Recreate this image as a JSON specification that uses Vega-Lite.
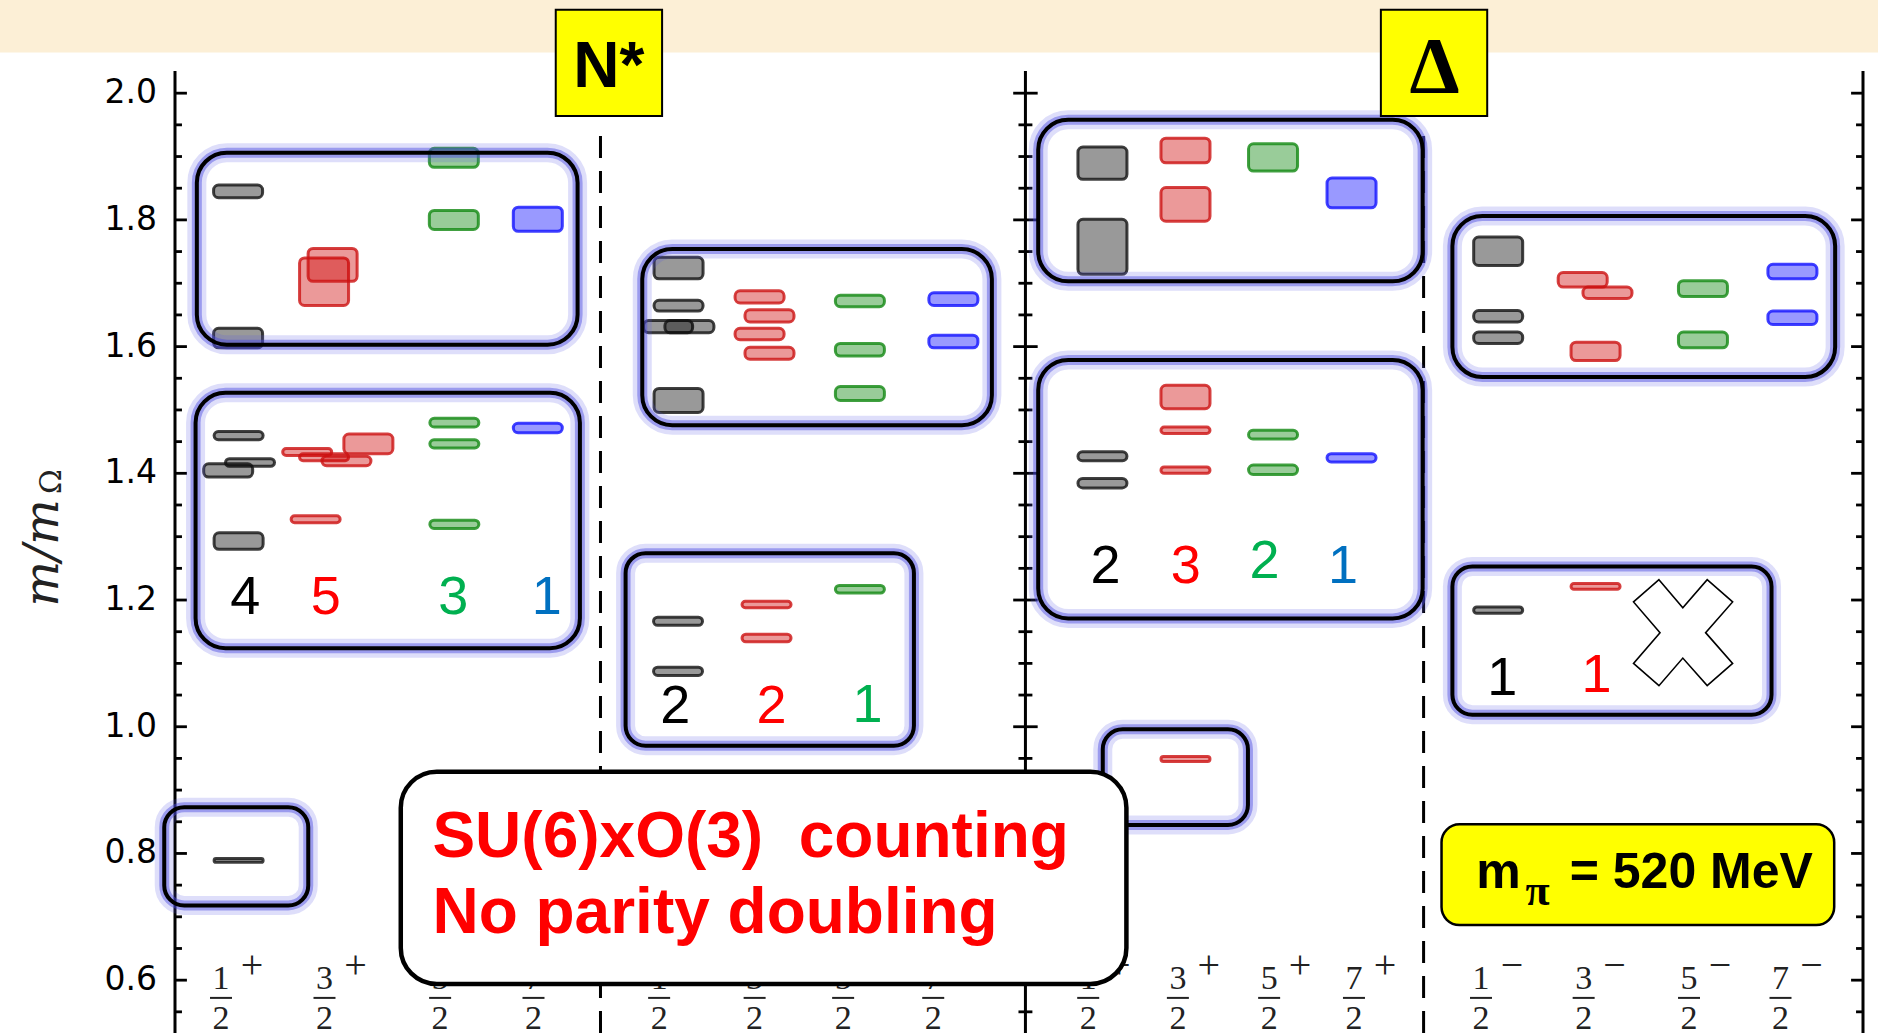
{
"$schema":"https://vega.github.io/schema/vega-lite/v6.json",
"width":1698,"height":962,
"autosize":{"type":"none"},
"padding":{"left":170,"top":71,"right":10,"bottom":0},
"background":"#ffffff",
"config":{"view":{"stroke":null}},
"datasets":{
"one":[{}],
"ticks":[{"v":0.55,"k":"minor"},{"v":0.6,"k":"major"},{"v":0.65,"k":"minor"},{"v":0.7,"k":"minor"},{"v":0.75,"k":"minor"},{"v":0.8,"k":"major"},{"v":0.85,"k":"minor"},{"v":0.9,"k":"minor"},{"v":0.95,"k":"minor"},{"v":1.0,"k":"major"},{"v":1.05,"k":"minor"},{"v":1.1,"k":"minor"},{"v":1.15,"k":"minor"},{"v":1.2,"k":"major"},{"v":1.25,"k":"minor"},{"v":1.3,"k":"minor"},{"v":1.35,"k":"minor"},{"v":1.4,"k":"major"},{"v":1.45,"k":"minor"},{"v":1.5,"k":"minor"},{"v":1.55,"k":"minor"},{"v":1.6,"k":"major"},{"v":1.65,"k":"minor"},{"v":1.7,"k":"minor"},{"v":1.75,"k":"minor"},{"v":1.8,"k":"major"},{"v":1.85,"k":"minor"},{"v":1.9,"k":"minor"},{"v":1.95,"k":"minor"},{"v":2.0,"k":"major"}],
"bars":[
{"x":0.598,"lo":1.835,"hi":1.855,"J":"1/2"},{"x":0.598,"lo":1.598,"hi":1.629,"J":"1/2"},
{"x":1.413,"lo":1.665,"hi":1.740,"J":"3/2"},{"x":1.494,"lo":1.703,"hi":1.755,"J":"3/2"},
{"x":2.643,"lo":1.883,"hi":1.913,"J":"5/2"},{"x":2.643,"lo":1.785,"hi":1.815,"J":"5/2"},
{"x":3.439,"lo":1.782,"hi":1.820,"J":"7/2"},
{"x":0.603,"lo":1.453,"hi":1.466,"J":"1/2"},{"x":0.711,"lo":1.411,"hi":1.423,"J":"1/2"},{"x":0.504,"lo":1.394,"hi":1.415,"J":"1/2"},{"x":0.603,"lo":1.280,"hi":1.306,"J":"1/2"},
{"x":1.253,"lo":1.428,"hi":1.439,"J":"3/2"},{"x":1.413,"lo":1.420,"hi":1.431,"J":"3/2"},{"x":1.625,"lo":1.412,"hi":1.427,"J":"3/2"},{"x":1.833,"lo":1.431,"hi":1.462,"J":"3/2"},{"x":1.333,"lo":1.322,"hi":1.333,"J":"3/2"},
{"x":2.648,"lo":1.473,"hi":1.487,"J":"5/2"},{"x":2.648,"lo":1.440,"hi":1.453,"J":"5/2"},{"x":2.648,"lo":1.313,"hi":1.326,"J":"5/2"},
{"x":3.439,"lo":1.464,"hi":1.479,"J":"7/2"},
{"x":0.603,"lo":0.786,"hi":0.792,"J":"1/2"},
{"x":4.773,"lo":1.707,"hi":1.741,"J":"1/2"},{"x":4.773,"lo":1.656,"hi":1.673,"J":"1/2"},{"x":4.674,"lo":1.622,"hi":1.641,"J":"1/2"},{"x":4.876,"lo":1.622,"hi":1.641,"J":"1/2"},{"x":4.773,"lo":1.496,"hi":1.534,"J":"1/2"},
{"x":5.541,"lo":1.669,"hi":1.688,"J":"3/2"},{"x":5.635,"lo":1.639,"hi":1.658,"J":"3/2"},{"x":5.541,"lo":1.611,"hi":1.629,"J":"3/2"},{"x":5.635,"lo":1.580,"hi":1.599,"J":"3/2"},
{"x":6.492,"lo":1.663,"hi":1.681,"J":"5/2"},{"x":6.492,"lo":1.585,"hi":1.605,"J":"5/2"},{"x":6.492,"lo":1.515,"hi":1.537,"J":"5/2"},
{"x":7.378,"lo":1.665,"hi":1.685,"J":"7/2"},{"x":7.378,"lo":1.598,"hi":1.618,"J":"7/2"},
{"x":4.768,"lo":1.160,"hi":1.173,"J":"1/2"},{"x":4.768,"lo":1.081,"hi":1.094,"J":"1/2"},
{"x":5.607,"lo":1.188,"hi":1.198,"J":"3/2"},{"x":5.607,"lo":1.134,"hi":1.146,"J":"3/2"},
{"x":6.492,"lo":1.211,"hi":1.223,"J":"5/2"},
{"x":8.791,"lo":1.864,"hi":1.915,"J":"1/2"},{"x":8.791,"lo":1.714,"hi":1.801,"J":"1/2"},
{"x":9.578,"lo":1.890,"hi":1.929,"J":"3/2"},{"x":9.578,"lo":1.798,"hi":1.851,"J":"3/2"},
{"x":10.408,"lo":1.877,"hi":1.920,"J":"5/2"},
{"x":11.152,"lo":1.819,"hi":1.866,"J":"7/2"},
{"x":8.791,"lo":1.420,"hi":1.434,"J":"1/2"},{"x":8.791,"lo":1.377,"hi":1.392,"J":"1/2"},
{"x":9.578,"lo":1.502,"hi":1.539,"J":"3/2"},{"x":9.578,"lo":1.463,"hi":1.473,"J":"3/2"},{"x":9.578,"lo":1.400,"hi":1.410,"J":"3/2"},
{"x":10.408,"lo":1.454,"hi":1.468,"J":"5/2"},{"x":10.408,"lo":1.398,"hi":1.413,"J":"5/2"},
{"x":11.152,"lo":1.418,"hi":1.431,"J":"7/2"},
{"x":9.578,"lo":0.945,"hi":0.953,"J":"3/2"},
{"x":12.542,"lo":1.728,"hi":1.773,"J":"1/2"},{"x":12.542,"lo":1.639,"hi":1.657,"J":"1/2"},{"x":12.542,"lo":1.605,"hi":1.623,"J":"1/2"},
{"x":13.343,"lo":1.694,"hi":1.717,"J":"3/2"},{"x":13.578,"lo":1.676,"hi":1.694,"J":"3/2"},{"x":13.465,"lo":1.578,"hi":1.607,"J":"3/2"},
{"x":14.483,"lo":1.679,"hi":1.704,"J":"5/2"},{"x":14.483,"lo":1.598,"hi":1.623,"J":"5/2"},
{"x":15.331,"lo":1.707,"hi":1.730,"J":"7/2"},{"x":15.331,"lo":1.635,"hi":1.656,"J":"7/2"},
{"x":12.542,"lo":1.179,"hi":1.189,"J":"1/2"},
{"x":13.465,"lo":1.217,"hi":1.226,"J":"3/2"}
],
"boxes":[
{"id":"a","x1":0.207,"x2":3.816,"y1":1.603,"y2":1.906},
{"id":"b","x1":0.195,"x2":3.838,"y1":1.124,"y2":1.527},
{"id":"c","x1":-0.102,"x2":1.263,"y1":0.718,"y2":0.873},
{"id":"d","x1":4.429,"x2":7.743,"y1":1.476,"y2":1.754},
{"id":"e","x1":4.271,"x2":7.004,"y1":0.970,"y2":1.274},
{"id":"f","x1":8.182,"x2":11.826,"y1":1.703,"y2":1.958},
{"id":"g","x1":8.182,"x2":11.826,"y1":1.171,"y2":1.579},
{"id":"h","x1":8.794,"x2":10.170,"y1":0.845,"y2":0.996},
{"id":"i","x1":12.108,"x2":15.736,"y1":1.552,"y2":1.806},
{"id":"j","x1":12.108,"x2":15.133,"y1":1.019,"y2":1.253}
],
"counts":[
{"x":0.666,"y":1.178,"t":"4","J":"1/2"},{"x":1.429,"y":1.178,"t":"5","J":"3/2"},{"x":2.638,"y":1.178,"t":"3","J":"5/2"},{"x":3.524,"y":1.178,"t":"1","J":"7/2"},
{"x":4.743,"y":1.006,"t":"2","J":"1/2"},{"x":5.654,"y":1.006,"t":"2","J":"3/2"},{"x":6.565,"y":1.008,"t":"1","J":"5/2"},
{"x":8.820,"y":1.2275,"t":"2","J":"1/2"},{"x":9.580,"y":1.227,"t":"3","J":"3/2"},{"x":10.327,"y":1.2344,"t":"2","J":"5/2"},{"x":11.072,"y":1.2275,"t":"1","J":"7/2"},
{"x":12.580,"y":1.0502,"t":"1","J":"1/2"},{"x":13.475,"y":1.0555,"t":"1","J":"3/2"}
],
"fracs":[
{"x":0.436,"n":"1","s":"+"},{"x":1.417,"n":"3","s":"+"},{"x":2.513,"n":"5","s":"+"},{"x":3.398,"n":"7","s":"+"},
{"x":4.589,"n":"1","s":"−"},{"x":5.494,"n":"3","s":"−"},{"x":6.333,"n":"5","s":"−"},{"x":7.187,"n":"7","s":"−"},
{"x":8.656,"n":"1","s":"+"},{"x":9.506,"n":"3","s":"+"},{"x":10.371,"n":"5","s":"+"},{"x":11.175,"n":"7","s":"+"},
{"x":12.379,"n":"1","s":"−"},{"x":13.352,"n":"3","s":"−"},{"x":14.351,"n":"5","s":"−"},{"x":15.218,"n":"7","s":"−"}
]
},
"layer":[
{"data":{"name":"one"},"mark":{"type":"rect","fill":"#fcefd6","clip":false},
 "encoding":{"x":{"datum":-1.7,"type":"quantitative","scale":{"domain":[0,16],"nice":false,"zero":false},"axis":null},"x2":{"datum":16.2},
 "y":{"datum":2.0641,"type":"quantitative","scale":{"domain":[0.5166,2.035],"nice":false,"zero":false},"axis":null},"y2":{"datum":2.4}}},
{"data":{"values":[{"x":4.033},{"x":11.835}]},
 "mark":{"type":"rule","strokeDash":[22,13],"strokeWidth":3,"color":"#000000"},
 "encoding":{"x":{"field":"x","type":"quantitative","scale":{"domain":[0,16],"nice":false,"zero":false},"axis":null},
 "y":{"datum":0.5166,"type":"quantitative","scale":{"domain":[0.5166,2.035],"nice":false,"zero":false},"axis":null},"y2":{"datum":1.937}}},
{"data":{"values":[{"x":0},{"x":8.061},{"x":16}]},
 "mark":{"type":"rule","strokeWidth":3,"color":"#000000"},
 "encoding":{"x":{"field":"x","type":"quantitative","scale":{"domain":[0,16],"nice":false,"zero":false},"axis":null},
 "y":{"datum":0.5166,"type":"quantitative","scale":{"domain":[0.5166,2.035],"nice":false,"zero":false},"axis":null},"y2":{"datum":2.035}}},
{"data":{"name":"ticks"},"transform":[{"filter":{"field":"k","equal":"major"}}],
 "mark":{"type":"rule","strokeWidth":2.8,"color":"#000000"},
 "encoding":{"x":{"datum":0,"type":"quantitative","scale":{"domain":[0,16],"nice":false,"zero":false},"axis":null},"x2":{"datum":0.113},
 "y":{"field":"v","type":"quantitative","scale":{"domain":[0.5166,2.035],"nice":false,"zero":false},"axis":null}}},
{"data":{"name":"ticks"},"transform":[{"filter":{"field":"k","equal":"major"}}],
 "mark":{"type":"text","font":"DejaVu Sans","fontSize":33,"align":"right","baseline":"middle","color":"#000000","xOffset":-18},
 "encoding":{"x":{"datum":0,"type":"quantitative","scale":{"domain":[0,16],"nice":false,"zero":false},"axis":null},
 "y":{"field":"v","type":"quantitative","scale":{"domain":[0.5166,2.035],"nice":false,"zero":false},"axis":null},
 "text":{"field":"v","type":"quantitative","format":".1f"}}},
{"data":{"name":"ticks"},"transform":[{"filter":{"field":"k","equal":"minor"}}],
 "mark":{"type":"rule","strokeWidth":2.8,"color":"#000000"},
 "encoding":{"x":{"datum":0,"type":"quantitative","scale":{"domain":[0,16],"nice":false,"zero":false},"axis":null},"x2":{"datum":0.066},
 "y":{"field":"v","type":"quantitative","scale":{"domain":[0.5166,2.035],"nice":false,"zero":false},"axis":null}}},
{"data":{"name":"ticks"},"transform":[{"filter":{"field":"k","equal":"major"}}],
 "mark":{"type":"rule","strokeWidth":2.8,"color":"#000000"},
 "encoding":{"x":{"datum":7.945,"type":"quantitative","scale":{"domain":[0,16],"nice":false,"zero":false},"axis":null},"x2":{"datum":8.177},
 "y":{"field":"v","type":"quantitative","scale":{"domain":[0.5166,2.035],"nice":false,"zero":false},"axis":null}}},
{"data":{"name":"ticks"},"transform":[{"filter":{"field":"k","equal":"minor"}}],
 "mark":{"type":"rule","strokeWidth":2.8,"color":"#000000"},
 "encoding":{"x":{"datum":7.995,"type":"quantitative","scale":{"domain":[0,16],"nice":false,"zero":false},"axis":null},"x2":{"datum":8.127},
 "y":{"field":"v","type":"quantitative","scale":{"domain":[0.5166,2.035],"nice":false,"zero":false},"axis":null}}},
{"data":{"name":"ticks"},"transform":[{"filter":{"field":"k","equal":"major"}}],
 "mark":{"type":"rule","strokeWidth":2.8,"color":"#000000"},
 "encoding":{"x":{"datum":15.887,"type":"quantitative","scale":{"domain":[0,16],"nice":false,"zero":false},"axis":null},"x2":{"datum":16},
 "y":{"field":"v","type":"quantitative","scale":{"domain":[0.5166,2.035],"nice":false,"zero":false},"axis":null}}},
{"data":{"name":"ticks"},"transform":[{"filter":{"field":"k","equal":"minor"}}],
 "mark":{"type":"rule","strokeWidth":2.8,"color":"#000000"},
 "encoding":{"x":{"datum":15.934,"type":"quantitative","scale":{"domain":[0,16],"nice":false,"zero":false},"axis":null},"x2":{"datum":16},
 "y":{"field":"v","type":"quantitative","scale":{"domain":[0.5166,2.035],"nice":false,"zero":false},"axis":null}}},
{"data":{"name":"bars"},
 "mark":{"type":"bar","width":49,"cornerRadius":5,"fillOpacity":0.4,"strokeWidth":3,"strokeOpacity":0.8},
 "encoding":{"x":{"field":"x","type":"quantitative","scale":{"domain":[0,16],"nice":false,"zero":false},"axis":null},
 "y":{"field":"lo","type":"quantitative","scale":{"domain":[0.5166,2.035],"nice":false,"zero":false},"axis":null},"y2":{"field":"hi"},
 "fill":{"field":"J","type":"nominal","scale":{"domain":["1/2","3/2","5/2","7/2"],"range":["#000000","#cc0000","#008000","#0000ff"]},"legend":null},
 "stroke":{"field":"J","type":"nominal","scale":{"domain":["1/2","3/2","5/2","7/2"],"range":["#111111","#cc1111","#118811","#1111ff"]},"legend":null}}},
{"data":{"name":"boxes"},"transform":[{"filter":{"field":"id","oneOf":["a","b","d","f","g","i"]}}],
 "mark":{"type":"rect","fill":"#ffffff","fillOpacity":0,"stroke":"#5a5ae6","strokeOpacity":0.2,"strokeWidth":19,"cornerRadius":30,"clip":false},
 "encoding":{"x":{"field":"x1","type":"quantitative","scale":{"domain":[0,16],"nice":false,"zero":false},"axis":null},"x2":{"field":"x2"},
 "y":{"field":"y1","type":"quantitative","scale":{"domain":[0.5166,2.035],"nice":false,"zero":false},"axis":null},"y2":{"field":"y2"}}},
{"data":{"name":"boxes"},"transform":[{"filter":{"field":"id","oneOf":["a","b","d","f","g","i"]}}],
 "mark":{"type":"rect","fill":"#ffffff","fillOpacity":0,"stroke":"#4a4ae0","strokeOpacity":0.45,"strokeWidth":10,"cornerRadius":30,"clip":false},
 "encoding":{"x":{"field":"x1","type":"quantitative","scale":{"domain":[0,16],"nice":false,"zero":false},"axis":null},"x2":{"field":"x2"},
 "y":{"field":"y1","type":"quantitative","scale":{"domain":[0.5166,2.035],"nice":false,"zero":false},"axis":null},"y2":{"field":"y2"}}},
{"data":{"name":"boxes"},"transform":[{"filter":{"field":"id","oneOf":["a","b","d","f","g","i"]}}],
 "mark":{"type":"rect","fill":"#ffffff","fillOpacity":0,"stroke":"#000000","strokeWidth":4,"cornerRadius":30,"clip":false},
 "encoding":{"x":{"field":"x1","type":"quantitative","scale":{"domain":[0,16],"nice":false,"zero":false},"axis":null},"x2":{"field":"x2"},
 "y":{"field":"y1","type":"quantitative","scale":{"domain":[0.5166,2.035],"nice":false,"zero":false},"axis":null},"y2":{"field":"y2"}}},
{"data":{"name":"boxes"},"transform":[{"filter":{"field":"id","oneOf":["c","e","h","j"]}}],
 "mark":{"type":"rect","fill":"#ffffff","fillOpacity":0,"stroke":"#5a5ae6","strokeOpacity":0.2,"strokeWidth":19,"cornerRadius":20,"clip":false},
 "encoding":{"x":{"field":"x1","type":"quantitative","scale":{"domain":[0,16],"nice":false,"zero":false},"axis":null},"x2":{"field":"x2"},
 "y":{"field":"y1","type":"quantitative","scale":{"domain":[0.5166,2.035],"nice":false,"zero":false},"axis":null},"y2":{"field":"y2"}}},
{"data":{"name":"boxes"},"transform":[{"filter":{"field":"id","oneOf":["c","e","h","j"]}}],
 "mark":{"type":"rect","fill":"#ffffff","fillOpacity":0,"stroke":"#4a4ae0","strokeOpacity":0.45,"strokeWidth":10,"cornerRadius":20,"clip":false},
 "encoding":{"x":{"field":"x1","type":"quantitative","scale":{"domain":[0,16],"nice":false,"zero":false},"axis":null},"x2":{"field":"x2"},
 "y":{"field":"y1","type":"quantitative","scale":{"domain":[0.5166,2.035],"nice":false,"zero":false},"axis":null},"y2":{"field":"y2"}}},
{"data":{"name":"boxes"},"transform":[{"filter":{"field":"id","oneOf":["c","e","h","j"]}}],
 "mark":{"type":"rect","fill":"#ffffff","fillOpacity":0,"stroke":"#000000","strokeWidth":4,"cornerRadius":20,"clip":false},
 "encoding":{"x":{"field":"x1","type":"quantitative","scale":{"domain":[0,16],"nice":false,"zero":false},"axis":null},"x2":{"field":"x2"},
 "y":{"field":"y1","type":"quantitative","scale":{"domain":[0.5166,2.035],"nice":false,"zero":false},"axis":null},"y2":{"field":"y2"}}},
{"data":{"name":"counts"},
 "mark":{"type":"text","font":"Liberation Sans","fontSize":54,"align":"center","baseline":"alphabetic"},
 "encoding":{"x":{"field":"x","type":"quantitative","scale":{"domain":[0,16],"nice":false,"zero":false},"axis":null},
 "y":{"field":"y","type":"quantitative","scale":{"domain":[0.5166,2.035],"nice":false,"zero":false},"axis":null},
 "text":{"field":"t"},
 "color":{"field":"J","type":"nominal","scale":{"domain":["1/2","3/2","5/2","7/2"],"range":["#000000","#ff0000","#00b050","#0070c0"]},"legend":null}}},
{"data":{"values":[{"x":14.292,"y":1.1485}]},
 "mark":{"type":"point","shape":"M-0.45,-1L0,-0.47L0.46,-1L0.94,-0.58L0.43,0L0.94,0.58L0.46,1L0,0.48L-0.45,1L-0.93,0.58L-0.43,0L-0.93,-0.58Z","size":11236,"filled":true,"fill":"#ffffff","stroke":"#000000","strokeWidth":1.6,"opacity":1},
 "encoding":{"x":{"field":"x","type":"quantitative","scale":{"domain":[0,16],"nice":false,"zero":false},"axis":null},
 "y":{"field":"y","type":"quantitative","scale":{"domain":[0.5166,2.035],"nice":false,"zero":false},"axis":null}}},
{"data":{"name":"fracs"},
 "mark":{"type":"text","font":"Liberation Serif","fontSize":34,"align":"center","baseline":"alphabetic","color":"#222222"},
 "encoding":{"x":{"field":"x","type":"quantitative","scale":{"domain":[0,16],"nice":false,"zero":false},"axis":null},
 "y":{"datum":0.586,"type":"quantitative","scale":{"domain":[0.5166,2.035],"nice":false,"zero":false},"axis":null},"text":{"field":"n"}}},
{"data":{"name":"fracs"},
 "mark":{"type":"text","text":"2","font":"Liberation Serif","fontSize":34,"align":"center","baseline":"alphabetic","color":"#222222"},
 "encoding":{"x":{"field":"x","type":"quantitative","scale":{"domain":[0,16],"nice":false,"zero":false},"axis":null},
 "y":{"datum":0.5225,"type":"quantitative","scale":{"domain":[0.5166,2.035],"nice":false,"zero":false},"axis":null}}},
{"data":{"name":"fracs"},
 "mark":{"type":"rule","strokeWidth":2,"color":"#222222","xOffset":-11,"x2Offset":11},
 "encoding":{"x":{"field":"x","type":"quantitative","scale":{"domain":[0,16],"nice":false,"zero":false},"axis":null},"x2":{"field":"x"},
 "y":{"datum":0.572,"type":"quantitative","scale":{"domain":[0.5166,2.035],"nice":false,"zero":false},"axis":null}}},
{"data":{"name":"fracs"},
 "mark":{"type":"text","font":"Liberation Serif","fontSize":40,"align":"center","baseline":"alphabetic","color":"#222222","xOffset":31},
 "encoding":{"x":{"field":"x","type":"quantitative","scale":{"domain":[0,16],"nice":false,"zero":false},"axis":null},
 "y":{"datum":0.604,"type":"quantitative","scale":{"domain":[0.5166,2.035],"nice":false,"zero":false},"axis":null},"text":{"field":"s"}}},
{"data":{"name":"one"},"mark":{"type":"text","text":"m/m","font":"DejaVu Serif","fontStyle":"italic","fontSize":48,"angle":270,"align":"center","baseline":"alphabetic","color":"#222222"},
 "encoding":{"x":{"datum":-1.112,"type":"quantitative","scale":{"domain":[0,16],"nice":false,"zero":false},"axis":null},
 "y":{"datum":1.2744,"type":"quantitative","scale":{"domain":[0.5166,2.035],"nice":false,"zero":false},"axis":null}}},
{"data":{"name":"one"},"mark":{"type":"text","text":"Ω","font":"DejaVu Serif","fontSize":30,"angle":270,"align":"center","baseline":"alphabetic","color":"#222222"},
 "encoding":{"x":{"datum":-1.085,"type":"quantitative","scale":{"domain":[0,16],"nice":false,"zero":false},"axis":null},
 "y":{"datum":1.387,"type":"quantitative","scale":{"domain":[0.5166,2.035],"nice":false,"zero":false},"axis":null}}},
{"data":{"name":"one"},"mark":{"type":"rect","fill":"#ffffff","stroke":"#000000","strokeWidth":4.5,"cornerRadius":36,"clip":false},
 "encoding":{"x":{"datum":2.14,"type":"quantitative","scale":{"domain":[0,16],"nice":false,"zero":false},"axis":null},"x2":{"datum":9.018},
 "y":{"datum":0.594,"type":"quantitative","scale":{"domain":[0.5166,2.035],"nice":false,"zero":false},"axis":null},"y2":{"datum":0.929}}},
{"data":{"name":"one"},"mark":{"type":"text","text":"SU(6)xO(3)\u00a0\u00a0counting","font":"Liberation Sans","fontWeight":"bold","fontSize":64,"align":"left","baseline":"alphabetic","color":"#ff0000"},
 "encoding":{"x":{"datum":2.44,"type":"quantitative","scale":{"domain":[0,16],"nice":false,"zero":false},"axis":null},
 "y":{"datum":0.7945,"type":"quantitative","scale":{"domain":[0.5166,2.035],"nice":false,"zero":false},"axis":null}}},
{"data":{"name":"one"},"mark":{"type":"text","text":"No parity doubling","font":"Liberation Sans","fontWeight":"bold","fontSize":64,"align":"left","baseline":"alphabetic","color":"#ff0000"},
 "encoding":{"x":{"datum":2.44,"type":"quantitative","scale":{"domain":[0,16],"nice":false,"zero":false},"axis":null},
 "y":{"datum":0.674,"type":"quantitative","scale":{"domain":[0.5166,2.035],"nice":false,"zero":false},"axis":null}}},
{"data":{"name":"one"},"mark":{"type":"rect","fill":"#ffff00","stroke":"#000000","strokeWidth":2.5,"cornerRadius":18,"clip":false},
 "encoding":{"x":{"datum":12.005,"type":"quantitative","scale":{"domain":[0,16],"nice":false,"zero":false},"axis":null},"x2":{"datum":15.727},
 "y":{"datum":0.687,"type":"quantitative","scale":{"domain":[0.5166,2.035],"nice":false,"zero":false},"axis":null},"y2":{"datum":0.846}}},
{"data":{"name":"one"},"mark":{"type":"text","text":"m","font":"Liberation Sans","fontWeight":"bold","fontSize":50,"align":"left","baseline":"alphabetic","color":"#000000"},
 "encoding":{"x":{"datum":12.335,"type":"quantitative","scale":{"domain":[0,16],"nice":false,"zero":false},"axis":null},
 "y":{"datum":0.746,"type":"quantitative","scale":{"domain":[0.5166,2.035],"nice":false,"zero":false},"axis":null}}},
{"data":{"name":"one"},"mark":{"type":"text","text":"π","font":"Liberation Serif","fontWeight":"bold","fontSize":44,"align":"left","baseline":"alphabetic","color":"#000000"},
 "encoding":{"x":{"datum":12.80,"type":"quantitative","scale":{"domain":[0,16],"nice":false,"zero":false},"axis":null},
 "y":{"datum":0.7193,"type":"quantitative","scale":{"domain":[0.5166,2.035],"nice":false,"zero":false},"axis":null}}},
{"data":{"name":"one"},"mark":{"type":"text","text":"= 520 MeV","font":"Liberation Sans","fontWeight":"bold","fontSize":50,"align":"left","baseline":"alphabetic","color":"#000000"},
 "encoding":{"x":{"datum":13.22,"type":"quantitative","scale":{"domain":[0,16],"nice":false,"zero":false},"axis":null},
 "y":{"datum":0.746,"type":"quantitative","scale":{"domain":[0.5166,2.035],"nice":false,"zero":false},"axis":null}}},
{"data":{"name":"one"},"mark":{"type":"rect","fill":"#ffff00","stroke":"#000000","strokeWidth":2,"clip":false},
 "encoding":{"x":{"datum":3.609,"type":"quantitative","scale":{"domain":[0,16],"nice":false,"zero":false},"axis":null},"x2":{"datum":4.617},
 "y":{"datum":1.964,"type":"quantitative","scale":{"domain":[0.5166,2.035],"nice":false,"zero":false},"axis":null},"y2":{"datum":2.1315}}},
{"data":{"name":"one"},"mark":{"type":"text","text":"N*","font":"Liberation Sans","fontWeight":"bold","fontSize":64,"align":"center","baseline":"alphabetic","color":"#000000"},
 "encoding":{"x":{"datum":4.113,"type":"quantitative","scale":{"domain":[0,16],"nice":false,"zero":false},"axis":null},
 "y":{"datum":2.0095,"type":"quantitative","scale":{"domain":[0.5166,2.035],"nice":false,"zero":false},"axis":null}}},
{"data":{"name":"one"},"mark":{"type":"rect","fill":"#ffff00","stroke":"#000000","strokeWidth":2,"clip":false},
 "encoding":{"x":{"datum":11.43,"type":"quantitative","scale":{"domain":[0,16],"nice":false,"zero":false},"axis":null},"x2":{"datum":12.438},
 "y":{"datum":1.964,"type":"quantitative","scale":{"domain":[0.5166,2.035],"nice":false,"zero":false},"axis":null},"y2":{"datum":2.1315}}},
{"data":{"name":"one"},"mark":{"type":"text","text":"Δ","font":"Liberation Serif","fontWeight":"bold","fontSize":80,"align":"center","baseline":"alphabetic","color":"#000000"},
 "encoding":{"x":{"datum":11.939,"type":"quantitative","scale":{"domain":[0,16],"nice":false,"zero":false},"axis":null},
 "y":{"datum":2.001,"type":"quantitative","scale":{"domain":[0.5166,2.035],"nice":false,"zero":false},"axis":null}}}
]
}
